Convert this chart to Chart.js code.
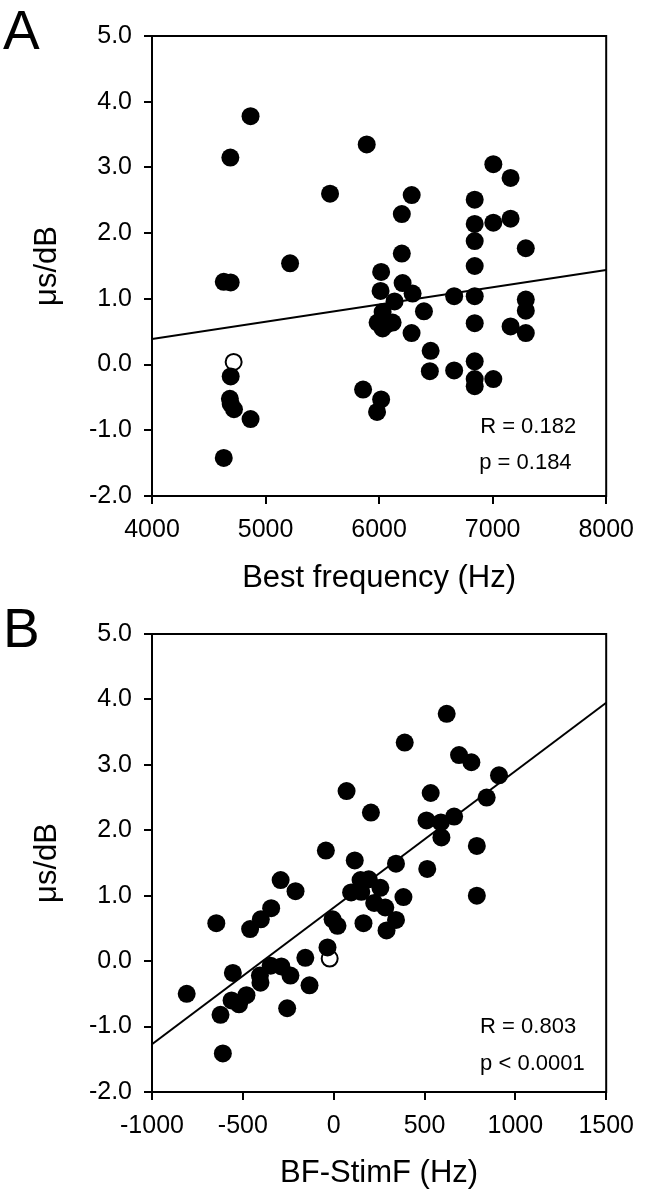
<!DOCTYPE html>
<html><head><meta charset="utf-8">
<script src="https://cdn.jsdelivr.net/npm/chart.js@4.4.0/dist/chart.umd.min.js"></script>
<style>
html,body{margin:0;padding:0;background:#fff;}
#wrap{position:relative;width:645px;height:1199px;background:#fff;}
.c{position:absolute;left:0;width:645px;}
</style></head><body>
<div id="wrap">
<div class="c" style="top:0;height:600px"><canvas id="a"></canvas></div>
<div class="c" style="top:600px;height:599px"><canvas id="b"></canvas></div>
</div>
<script>
// Panel A: best frequency (Hz) vs slope (µs/dB)
const bfA = [4868,4690,5891,5568,6287,6200,6842,6842,7006,7158,7006,7158,6842,7292,6200,6842,5216,6018,4632,4693,6207,6013,6295,6661,6842,7292,6136,7292,6395,6031,5987,6075,6031,6119,6286,6842,7158,7292,6454,6447,6661,6842,6842,6842,7006,5859,6018,5982,4693,4686,4693,4722,4868,4632];
const slopeA = [3.78,3.15,3.35,2.60,2.58,2.29,2.51,2.14,3.05,2.84,2.16,2.22,1.88,1.77,1.69,1.50,1.54,1.41,1.26,1.25,1.24,1.12,1.08,1.04,1.04,0.99,0.96,0.82,0.81,0.80,0.64,0.62,0.55,0.64,0.48,0.63,0.58,0.48,0.21,-0.10,-0.09,0.05,-0.22,-0.33,-0.22,-0.38,-0.53,-0.72,-0.18,-0.52,-0.60,-0.68,-0.83,-1.42];
const openA_x = [4719];
const openA_y = [0.04];
const fitA_x = [4000, 8000];
const fitA_y = [0.39, 1.44];

// Panel B: BF-StimF (Hz) vs slope (µs/dB)
const dfB = [622,391,690,758,910,71,534,842,205,511,590,663,593,788,-43,343,116,515,-292,148,193,257,-210,96,152,384,788,223,284,343,291,164,-6,21,-344,-401,-460,-646,-34,-156,-347,-288,-238,-406,-403,-133,-555,-480,-562,-521,-809,-623,-256,-610];
const slopeB = [3.78,3.34,3.15,3.04,2.84,2.60,2.57,2.50,2.27,2.15,2.12,2.21,1.89,1.76,1.69,1.49,1.54,1.41,1.24,1.24,1.25,1.12,1.07,1.05,1.06,0.98,1.00,0.89,0.82,0.63,0.47,0.58,0.64,0.54,0.81,0.64,0.49,0.58,0.21,0.05,-0.07,-0.08,-0.22,-0.22,-0.33,-0.37,-0.18,-0.52,-0.60,-0.66,-0.50,-0.82,-0.72,-1.41];
const openB_x = [-22];
const openB_y = [0.04];
const fitB_x = [-1000, 1500];
const fitB_y = [-1.27, 3.95];

const yTicks = [-2,-1,0,1,2,3,4,5];
const xTicksA = [4000,5000,6000,7000,8000];
const xTicksB = [-1000,-500,0,500,1000,1500];
const statsA = ["R = 0.182", "p = 0.184"];
const statsB = ["R = 0.803", "p < 0.0001"];

const FONT = '"Liberation Sans", Arial, sans-serif';
const zip = (xs, ys) => xs.map((v, i) => ({x: v, y: ys[i]}));

const decor = {
  id: 'decor',
  afterDraw(chart, args, o) {
    const {ctx, chartArea: a, scales: {x, y}} = chart;
    ctx.save();
    ctx.strokeStyle = '#000';
    ctx.lineWidth = 2;
    ctx.strokeRect(a.left, a.top, a.right - a.left, a.bottom - a.top);
    ctx.fillStyle = '#000';
    ctx.font = '55px ' + FONT;
    ctx.textAlign = 'left';
    ctx.textBaseline = 'alphabetic';
    ctx.fillText(o.letter, 3, o.letterY);
    ctx.font = '22px ' + FONT;
    ctx.textBaseline = 'middle';
    o.notes.forEach(n => ctx.fillText(n.text, x.getPixelForValue(n.x), y.getPixelForValue(n.y)));
    ctx.restore();
  }
};

function make(id, p) {
  return new Chart(document.getElementById(id), {
    type: 'scatter',
    data: {
      datasets: [
        {data: zip(p.xs, p.ys), pointStyle: 'circle', pointRadius: 9, pointBackgroundColor: '#000', pointBorderWidth: 0, order: 0},
        {data: zip(p.ox, p.oy), pointStyle: 'circle', pointRadius: 8, pointBackgroundColor: '#fff', pointBorderColor: '#000', pointBorderWidth: 2, order: 0},
        {type: 'line', data: zip(p.fx, p.fy), showLine: true, borderColor: '#000', borderWidth: 2, pointRadius: 0, fill: false, order: 1}
      ]
    },
    options: {
      responsive: true, maintainAspectRatio: false, animation: false,
      layout: {padding: {top: p.top, right: 38, left: 0, bottom: 0}},
      plugins: {legend: {display: false}, tooltip: {enabled: false},
        decor: {letter: p.letter, letterY: p.letterY, notes: p.notes}},
      scales: {
        x: {
          type: 'linear', min: p.xt[0], max: p.xt[p.xt.length - 1],
          afterBuildTicks: s => { s.ticks = p.xt.map(v => ({value: v})); },
          afterFit: s => { s.height = p.h - p.bottom; },
          grid: {display: true, drawOnChartArea: false, drawTicks: true, tickLength: 8, color: '#000', lineWidth: 2},
          border: {display: true, color: '#000', width: 2},
          ticks: {color: '#000', font: {family: FONT, size: 25}, padding: 11, maxRotation: 0, callback: v => String(v)},
          title: {display: true, text: p.xTitle, color: '#000', font: {family: FONT, size: 31}, padding: {top: 0, bottom: p.tpad}}
        },
        y: {
          type: 'linear', min: -2, max: 5,
          afterBuildTicks: s => { s.ticks = yTicks.map(v => ({value: v})); },
          afterFit: s => { s.width = 152; },
          grid: {display: true, drawOnChartArea: false, drawTicks: true, tickLength: 8, color: '#000', lineWidth: 2},
          border: {display: true, color: '#000', width: 2},
          ticks: {color: '#000', font: {family: FONT, size: 25}, padding: 12, callback: v => Number(v).toFixed(1)},
          title: {display: true, text: 'μs/dB', color: '#000', font: {family: FONT, size: 31}, padding: {top: 29, bottom: 0}}
        }
      }
    },
    plugins: [decor]
  });
}

make('a', {xs: bfA, ys: slopeA, ox: openA_x, oy: openA_y, fx: fitA_x, fy: fitA_y, xt: xTicksA,
  xTitle: 'Best frequency (Hz)', letter: 'A', letterY: 49, top: 36, bottom: 496, h: 600, tpad: 3,
  notes: [{text: statsA[0], x: 6890, y: -0.95}, {text: statsA[1], x: 6882, y: -1.49}]});
make('b', {xs: dfB, ys: slopeB, ox: openB_x, oy: openB_y, fx: fitB_x, fy: fitB_y, xt: xTicksB,
  xTitle: 'BF-StimF (Hz)', letter: 'B', letterY: 47, top: 34, bottom: 492, h: 599, tpad: 7,
  notes: [{text: statsB[0], x: 806, y: -1.0}, {text: statsB[1], x: 806, y: -1.57}]});
</script>
</body></html>
